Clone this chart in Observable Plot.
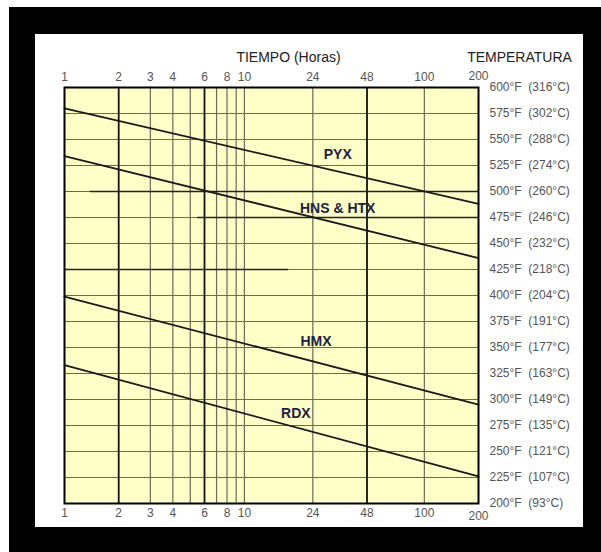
<!DOCTYPE html>
<html><head><meta charset="utf-8">
<script src="https://cdn.jsdelivr.net/npm/d3@7"></script>
<script src="https://cdn.jsdelivr.net/npm/@observablehq/plot@0.6"></script>
<style>
body{margin:0;background:#fff;}
#wrap{position:relative;width:601px;height:552px;overflow:hidden;}
#black{position:absolute;left:9px;top:7px;right:0;bottom:0;background:#000;}
#white{position:absolute;left:35px;top:34px;width:548px;height:493px;background:#fff;}
#chart{position:absolute;left:0;top:0;}
</style></head><body>
<div id="wrap"><div id="black"></div><div id="white"></div><div id="chart"></div></div>
<script>
// Tick labels and grid (hours, log scale)
const xTicks = [1, 2, 3, 4, 6, 8, 10, 24, 48, 100, 200];
const xGrid = [2, 3, 4, 5, 6, 7, 8, 9, 10, 24, 48, 100];
const xGridBold = [2, 6, 48];
// Temperature labels
const tempsF = [600, 575, 550, 525, 500, 475, 450, 425, 400, 375, 350, 325, 300, 275, 250, 225, 200];
const tempsC = [316, 302, 288, 274, 260, 246, 232, 218, 204, 191, 177, 163, 149, 135, 121, 107, 93];
// Series (straight lines on log-time axis): °F at 1 h and at 200 h
const seriesNames = ["PYX", "HNS & HTX", "HMX", "RDX"];
const seriesStartF = [580, 534, 399, 333];
const seriesEndF = [488, 436, 295, 226];
const seriesHours = [1, 200];
// Label positions (hours, °F)
const labelHours = [33, 33, 25, 19.3];
const labelF = [536, 484, 356, 287];
// darker partial gridlines in the original
const darkY = [500, 475, 425];
const darkX1 = [1.39, 5.5, 1];
const darkX2 = [200, 200, 17.6];

const lineData = seriesNames.flatMap((n, i) => [
  {name: n, h: seriesHours[0], f: seriesStartF[i]},
  {name: n, h: seriesHours[1], f: seriesEndF[i]}
]);
const labelData = seriesNames.map((n, i) => ({name: n, h: labelHours[i], f: labelF[i]}));
const darkData = darkY.map((y, i) => ({y, x1: darkX1[i], x2: darkX2[i]}));
const tempData = tempsF.map((f, i) => ({f, text: `${f}°F\u00a0\u00a0(${tempsC[i]}°C)`}));
const tickMain = xTicks.slice(0, -1);
const tickLast = xTicks.slice(-1);

const font = "'Liberation Sans', Arial, sans-serif";
const tickStyle = {fontSize: 12, fill: "#555", lineAnchor: "middle", text: d => String(d)};
const chart = Plot.plot({
  width: 601, height: 552,
  marginLeft: 64, marginRight: 123, marginTop: 87, marginBottom: 49,
  style: {background: "transparent", fontFamily: font, overflow: "visible"},
  x: {type: "log", domain: [1, 200], axis: null},
  y: {domain: [200, 600], axis: null},
  marks: [
    Plot.frame({fill: "#ffffc8", stroke: null}),
    Plot.ruleY(tempsF.slice(1, -1), {stroke: "#6a6a58", strokeWidth: 1.2}),
    Plot.ruleX(xGrid, {stroke: "#6a6a58", strokeWidth: 1.2}),
    Plot.ruleX(xGridBold, {stroke: "#111", strokeWidth: 1.7}),
    Plot.ruleY(darkData, {y: "y", x1: "x1", x2: "x2", stroke: "#222", strokeWidth: 1.7}),
    Plot.line(lineData, {x: "h", y: "f", z: "name", stroke: "#1a1a1a", strokeWidth: 1.8}),
    Plot.text(labelData, {x: "h", y: "f", text: "name", fontWeight: "bold", fontSize: 14, fill: "#1c2340"}),
    Plot.frame({stroke: "#000", strokeWidth: 2}),
    Plot.text(tickMain, {...tickStyle, x: d => d, frameAnchor: "top", dy: -10}),
    Plot.text(tickLast, {...tickStyle, x: d => d, frameAnchor: "top", dy: -11}),
    Plot.text(tickMain, {...tickStyle, x: d => d, frameAnchor: "bottom", dy: 10}),
    Plot.text(tickLast, {...tickStyle, x: d => d, frameAnchor: "bottom", dy: 13}),
    Plot.text(tempData, {frameAnchor: "right", y: "f", text: "text", dx: 11, textAnchor: "start", fontSize: 12, fill: "#555"}),
    Plot.text(["TIEMPO (Horas)"], {frameAnchor: "top", lineAnchor: "middle", dx: 17, dy: -30, fontSize: 14, fill: "#222"}),
    Plot.text(["TEMPERATURA"], {frameAnchor: "top-right", lineAnchor: "middle", textAnchor: "middle", dx: 41, dy: -30, fontSize: 14, fill: "#222"})
  ]
});
document.getElementById("chart").appendChild(chart);
</script>
</body></html>
